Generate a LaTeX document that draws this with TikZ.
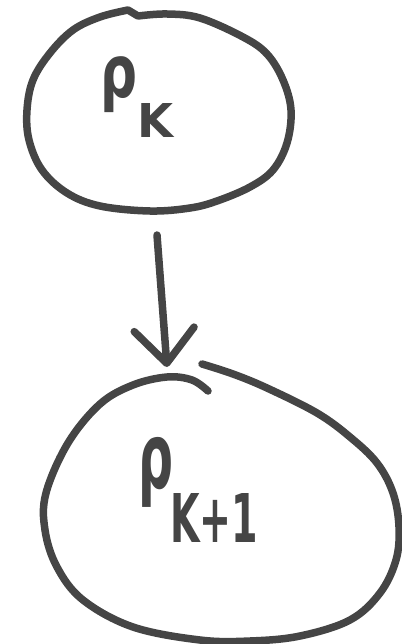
\documentclass[tikz,border=0pt]{standalone}
\usepackage{fontspec}
\setmainfont{DejaVu Sans}
\usepackage{graphicx}
\usetikzlibrary{arrows.meta}
\definecolor{ink}{gray}{0.27}
\begin{document}
\begin{tikzpicture}[x=1pt,y=-1pt,
  sketch/.style={draw=ink,line width=7.5pt,line cap=round,line join=round},
  lbl/.style={inner sep=0pt,outer sep=0pt,anchor=north west,text=ink,font=\bfseries}]
\useasboundingbox (0,0) rectangle (401,644);
% top blob
\draw[sketch] plot[smooth,tension=0.6] coordinates {(138,16) (167,14) (200,18) (243,37) (267,54) (283,80) (291,110) (287,143) (273,170) (250,187) (217,201) (190,208) (150,211) (100,206) (67,193) (42,170) (29,140) (27,110) (33,80) (50,53) (73,30) (100,17) (128,10)} -- (138,16);
% bottom blob (open stroke)
\draw[sketch] plot[smooth,tension=0.6] coordinates {(208,391) (192,380) (167,377) (133,385) (100,404) (68,443) (46,493) (45,530) (57,567) (83,600) (133,627) (200,640) (250,641) (300,636) (350,620) (380,593) (396,560) (399,527) (393,493) (377,463) (350,437) (317,413) (267,388) (233,374) (202,364)};
% connector
\coordinate (a1) at (157,235);
\coordinate (a2) at (167,367);
\draw[sketch,-{Straight Barb[length=34pt,width=60pt,round]}] (a1) -- (a2);
% labels
\node[lbl] (rhoA) at (100,57) {\resizebox*{37pt}{56pt}{ρ}};
\node[lbl] (subA) at (137,103) {\resizebox*{36pt}{34pt}{K}};
\node[lbl] (rhoB) at (138,437) {\resizebox*{35pt}{70pt}{ρ}};
\node[lbl] (subB) at (170,493) {\resizebox*{88pt}{49pt}{K+1}};
\end{tikzpicture}
\end{document}
